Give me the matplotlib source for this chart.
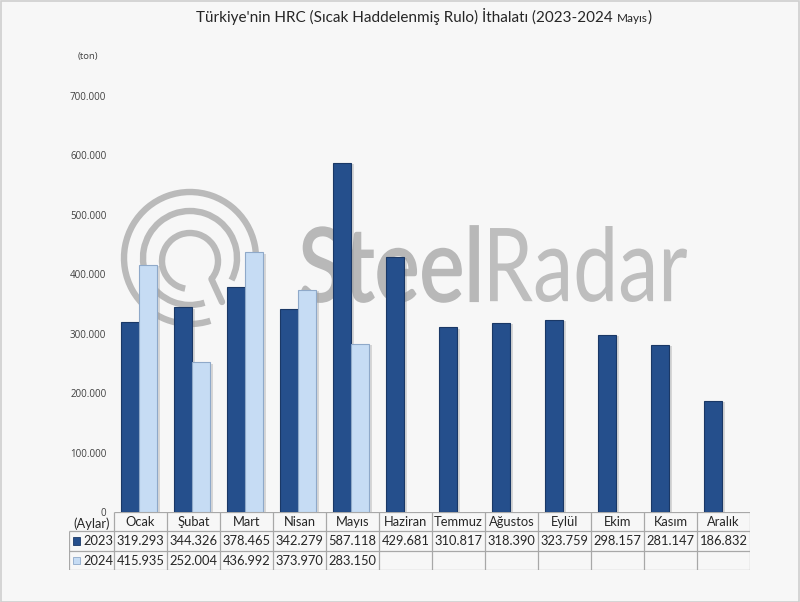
import matplotlib
matplotlib.use("Agg")
import matplotlib.pyplot as plt
import numpy as np
from matplotlib.patches import Rectangle, Arc, PathPatch
from matplotlib.textpath import TextPath
from matplotlib.font_manager import FontProperties
from matplotlib.transforms import Affine2D
import matplotlib.patheffects as pe

# ---------------- data ----------------
months = ["Ocak", "Şubat", "Mart", "Nisan", "Mayıs", "Haziran", "Temmuz",
          "Ağustos", "Eylül", "Ekim", "Kasım", "Aralık"]
v2023 = [319293, 344326, 378465, 342279, 587118, 429681, 310817,
         318390, 323759, 298157, 281147, 186832]
v2024 = [415935, 252004, 436992, 373970, 283150]
series_names = ["2023", "2024"]
yticks = [0, 100000, 200000, 300000, 400000, 500000, 600000, 700000]

title_main = "Türkiye'nin HRC (Sıcak Haddelenmiş Rulo) İthalatı (2023-2024 "
title_small = "Mayıs"
title_end = ")"

FONT = ["Lato", "DejaVu Sans"]
plt.rcParams["font.family"] = FONT

W, H = 800, 602
BG = "#f7f7f7"
DARK = "#254f8c"
DARK_EDGE = "#1a3866"
LIGHT = "#c6dcf4"
LIGHT_EDGE = "#8fa9c9"
GRID = "#a8a8a8"
TXT = "#262626"

fig = plt.figure(figsize=(W / 100, H / 100), dpi=100, facecolor=BG)

# border
fig.add_artist(Rectangle((0.5 / W, 0.5 / H), 1 - 1.5 / W, 1 - 1.5 / H,
                         transform=fig.transFigure, fill=False,
                         edgecolor="#cfcfcf", lw=1.2))

# ---------------- watermark (behind) ----------------
wm = fig.add_axes([0, 0, 1, 1], zorder=0)
wm.set_xlim(0, W)
wm.set_ylim(H, 0)
wm.axis("off")
wm.patch.set_visible(False)
WMC = "#bababa"
cx, cy = 190, 258
wm.add_patch(Arc((cx, cy + 3), 56, 56, theta1=100, theta2=400,
                 color=WMC, lw=4.6))
for r in (47, 66):
    wm.add_patch(Arc((cx, cy), 2 * r, 2 * r, theta1=72, theta2=388,
                     color=WMC, lw=4.6))
a0, a1 = np.deg2rad(40), np.deg2rad(52)
wm.plot([cx + 28 * np.cos(a0), cx + 52 * np.cos(a1)],
        [cy + 3 + 28 * np.sin(a0), cy + 3 + 52 * np.sin(a1)],
        color=WMC, lw=4.6, solid_capstyle="round")


def word(txt, x0, x1, ytop, ybase, weight, color, stroke):
    tp = TextPath((0, 0), txt, size=100,
                  prop=FontProperties(family="Lato", weight=weight))
    ext = tp.get_extents()
    sx = (x1 - x0) / ext.width
    sy = (ybase - ytop) / ext.height
    tr = Affine2D().translate(-ext.x0, -ext.y0).scale(sx, -sy).translate(x0, ybase)
    wm.add_patch(PathPatch(tr.transform_path(tp), facecolor=color,
                           edgecolor=color if stroke else "none",
                           lw=stroke))


word("Steel", 301, 478, 226, 302, "normal", "#b8b8b8", 1.3)
word("Radar", 490, 687, 226, 302, "normal", "#bebebe", 0)

# ---------------- main chart ----------------
ax = fig.add_axes([114 / W, 1 - 512 / H, 636 / W, (512 - 96) / H], zorder=2)
ax.patch.set_visible(False)
x = np.arange(len(months))
bw = 0.34
shadow = [pe.SimplePatchShadow(offset=(2, -1), shadow_rgbFace="#9a9a9a",
                               alpha=0.35), pe.Normal()]
ax.bar(x - 0.19, v2023, bw, color=DARK, edgecolor=DARK_EDGE, lw=0.8,
       path_effects=shadow, zorder=3)
ax.bar(x[:len(v2024)] - 0.19 + bw, v2024, bw, color=LIGHT,
       edgecolor=LIGHT_EDGE, lw=0.8, path_effects=shadow, zorder=3)
ax.set_xlim(-0.5, 11.5)
ax.set_ylim(0, 700000)
for s in ax.spines.values():
    s.set_visible(False)
ax.set_xticks([])
ax.set_yticks(yticks)
ax.set_yticklabels([f"{v:,.0f}".replace(",", ".") for v in yticks])
ax.tick_params(axis="y", length=0, pad=5.5, labelsize=7, labelcolor="#404040")
for lab in ax.get_yticklabels():
    lab.set_fontfamily(["Open Sans", "DejaVu Sans"])

# ---------------- data table ----------------
lw_units = 45 / 53.0
tab = fig.add_axes([69 / W, 1 - 570 / H, 681 / W, 58 / H], zorder=3)
tab.set_xlim(-0.5 - lw_units, 11.5)
tab.set_ylim(3, 0)
tab.axis("off")
tab.patch.set_visible(False)
L = -0.5 - lw_units
kw = dict(color=GRID, lw=0.9, solid_capstyle="butt")
tab.plot([-0.5, 11.5], [0, 0], **kw)
for r in (1, 2, 3):
    tab.plot([L, 11.5], [r, r], **kw)
tab.plot([L, L], [1, 3], **kw)
for k in range(13):
    tab.plot([k - 0.5, k - 0.5], [0, 3], **kw)

FS = 9.3
for i, m in enumerate(months):
    tab.text(i, 0.52, m, ha="center", va="center", fontsize=FS, color=TXT)
    tab.text(i, 1.52, f"{v2023[i]:,}".replace(",", "."), ha="center",
             va="center", fontsize=FS, color=TXT)
for i, v in enumerate(v2024):
    tab.text(i, 2.52, f"{v:,}".replace(",", "."), ha="center", va="center",
             fontsize=FS, color=TXT)
tab.text(L + lw_units / 2, 0.62, "(Aylar)", ha="center", va="center",
         fontsize=FS, color=TXT)
sq_w = 7 / 53.0
sq_h = 7 / 19.3
for row, (name, fc, ec) in enumerate(zip(series_names, [DARK, LIGHT],
                                         [DARK_EDGE, LIGHT_EDGE])):
    yc = 1.5 + row
    tab.add_patch(Rectangle((L + 4 / 53.0, yc - sq_h / 2), sq_w, sq_h,
                            facecolor=fc, edgecolor=ec, lw=0.6))
    tab.text(L + 14 / 53.0, yc + 0.02, name, ha="left", va="center",
             fontsize=FS, color=TXT)

# ---------------- texts ----------------
fig.text(78 / W, 1 - 57 / H, "(ton)", ha="left", va="center", fontsize=6.8,
         color="#404040", family=["Open Sans", "DejaVu Sans"])

fig.canvas.draw()
r = fig.canvas.get_renderer()
yb = 1 - 22 / H
t1 = fig.text(196 / W, yb, title_main, ha="left", va="baseline",
              fontsize=11, color=TXT)
e1 = t1.get_window_extent(renderer=r)
t2 = fig.text(e1.x1 / W, yb, title_small, ha="left", va="baseline",
              fontsize=8.5, color=TXT)
e2 = t2.get_window_extent(renderer=r)
fig.text(e2.x1 / W, yb, title_end, ha="left", va="baseline",
         fontsize=11, color=TXT)

fig.savefig("out.png", dpi=100, facecolor=BG)
